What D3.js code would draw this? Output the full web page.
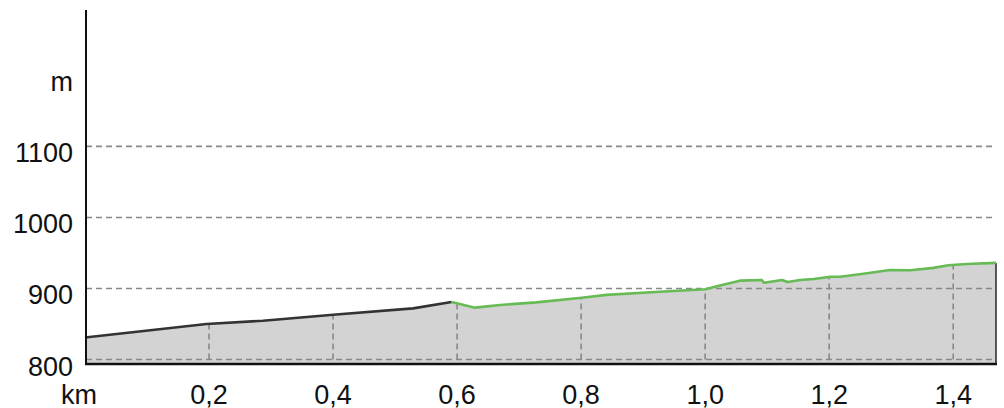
<!DOCTYPE html>
<html>
<head>
<meta charset="utf-8">
<script src="https://cdn.jsdelivr.net/npm/d3@7"></script>
<style>
  body { margin: 0; background: #fff; }
  svg { display: block; }
  text { font-family: "Liberation Sans", Arial, sans-serif; font-size: 27px; fill: #111; }
</style>
</head>
<body>
<svg id="chart" width="1004" height="408"></svg>
<script>
// distance along the route (km) and elevation (m)
var distKm = [0, 0.196, 0.287, 0.40, 0.529, 0.591, 0.629, 0.669, 0.728, 0.801, 0.841, 0.927, 1.0, 1.019, 1.056,
  1.091, 1.095, 1.124, 1.133, 1.153, 1.175, 1.202, 1.218, 1.261, 1.298, 1.331, 1.368, 1.392, 1.422, 1.469];
var elev = [831, 850, 854.6, 863, 872, 881, 873, 876.8, 880.5, 887, 891, 895.5, 899, 903, 911,
  912, 908, 912, 909, 912, 913.4, 916.6, 916.6, 921.4, 926, 925.6, 929, 932.7, 934.5, 936];
var splitKm = 0.591; // first part drawn dark, rest green
var yTicks = [800, 900, 1000, 1100];
var xTicks = [0.2, 0.4, 0.6, 0.8, 1.0, 1.2, 1.4];
var yUnit = "m", xUnit = "km";

var svg = d3.select("#chart");
var x = d3.scaleLinear().domain([0, 1.469]).range([85, 996]);
var y = d3.scaleLinear().domain([793.7, 1292]).range([364, 10]);

var pts = distKm.map(function(d, i) { return { d: d, e: elev[i] }; });
var first = pts.filter(function(p) { return p.d <= splitKm; });
var second = pts.filter(function(p) { return p.d >= splitKm; });

var area = d3.area().x(function(p) { return x(p.d); }).y0(y(793.7)).y1(function(p) { return y(p.e); });
var line = d3.line().x(function(p) { return x(p.d); }).y(function(p) { return y(p.e); });

svg.append("clipPath").attr("id", "fillclip").append("path").attr("d", area(pts));
svg.append("path").attr("d", area(pts)).attr("fill", "#d3d3d3");

// vertical grid inside the profile
svg.append("g").attr("clip-path", "url(#fillclip)").selectAll("line").data(xTicks).enter().append("line")
  .attr("x1", function(d) { return x(d); }).attr("x2", function(d) { return x(d); })
  .attr("y1", y(800)).attr("y2", 10)
  .attr("stroke", "#888").attr("stroke-width", 1.6).attr("stroke-dasharray", "6,4");

// horizontal grid
svg.append("g").selectAll("line").data(yTicks).enter().append("line")
  .attr("x1", 86).attr("x2", 996)
  .attr("y1", function(d) { return y(d); }).attr("y2", function(d) { return y(d); })
  .attr("stroke", "#888").attr("stroke-width", 1.6).attr("stroke-dasharray", "6,4");

// right edge of the fill
var last = pts[pts.length - 1];
svg.append("line").attr("x1", x(last.d)).attr("x2", x(last.d)).attr("y1", y(last.e)).attr("y2", 364)
  .attr("stroke", "#333").attr("stroke-width", 1.6);

svg.append("path").attr("d", line(first)).attr("fill", "none").attr("stroke", "#333").attr("stroke-width", 2.6).attr("stroke-linejoin", "round");
svg.append("path").attr("d", line(second)).attr("fill", "none").attr("stroke", "#66bb55").attr("stroke-width", 2.6).attr("stroke-linejoin", "round");

// axes
svg.append("line").attr("x1", 86).attr("x2", 86).attr("y1", 10).attr("y2", 365).attr("stroke", "#111").attr("stroke-width", 2);
svg.append("line").attr("x1", 85).attr("x2", 997).attr("y1", 364).attr("y2", 364).attr("stroke", "#111").attr("stroke-width", 2.6);

// y labels
svg.append("g").selectAll("text").data(yTicks).enter().append("text")
  .attr("x", 73).attr("y", function(d) { return y(d) + 16; }).attr("text-anchor", "end")
  .text(function(d) { return d; });
svg.append("text").attr("x", 73).attr("y", y(1200) + 16).attr("text-anchor", "end").text(yUnit);

// x labels
var fmt = function(d) { return d.toFixed(1).replace(".", ","); };
svg.append("g").selectAll("text").data(xTicks).enter().append("text")
  .attr("x", function(d) { return x(d); }).attr("y", 404).attr("text-anchor", "middle")
  .text(fmt);
svg.append("text").attr("x", 79).attr("y", 404).attr("text-anchor", "middle").text(xUnit);
</script>
</body>
</html>
